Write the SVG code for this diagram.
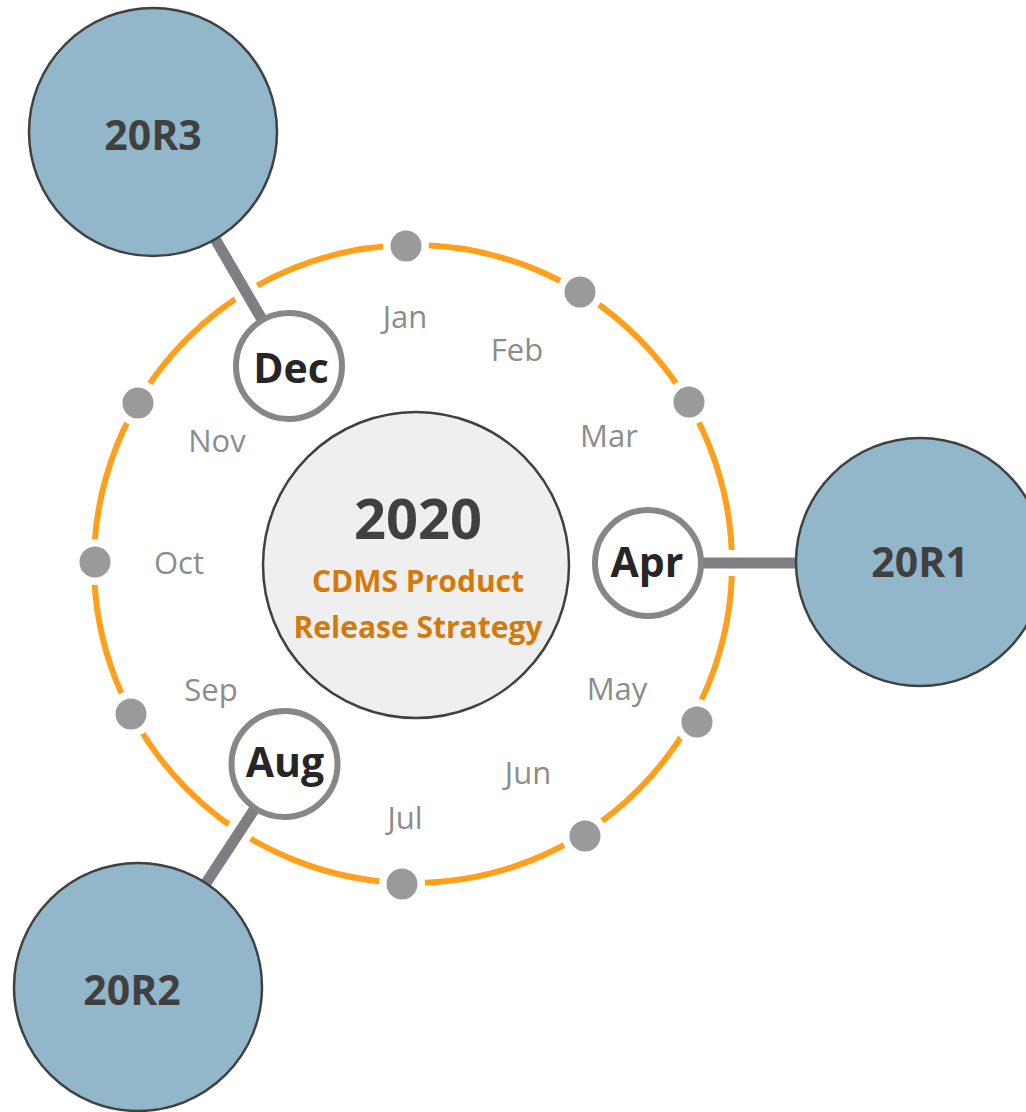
<svg xmlns="http://www.w3.org/2000/svg" width="1026" height="1112" viewBox="0 0 1026 1112">
<style>
.ring{fill:none;stroke:#FF9F1C;stroke-width:6}
.halo{fill:#fff}
.dot{fill:#9A9A9A}
.case{stroke:#fff;stroke-width:26;stroke-linecap:butt}
.link{stroke:#7F7F83;stroke-width:11;stroke-linecap:butt}
.rel{fill:#93B7CA;stroke:#404040;stroke-width:2.5}
.relt{font-family:"Open Sans",sans-serif;font-weight:700;font-size:41px;fill:#404040;text-anchor:middle}
.mon{fill:#fff;stroke:#878787;stroke-width:6}
.mont{font-family:"Open Sans",sans-serif;font-weight:700;font-size:41px;fill:#262626;text-anchor:middle}
.lbl{font-family:"Open Sans",sans-serif;font-size:31px;fill:#8C8C8C;text-anchor:middle}
</style>
<rect width="1026" height="1112" fill="#fff"/>
<g id="ring">
<circle class="ring" cx="413" cy="564" r="319"/>
</g>
<g id="connectors">
<line class="case" x1="153" y1="132" x2="289" y2="366"/>
<line class="case" x1="648" y1="563" x2="920" y2="563"/>
<line class="case" x1="284" y1="764" x2="138" y2="987"/>
<line class="link" x1="153" y1="132" x2="289" y2="366"/>
<line class="link" x1="648" y1="563" x2="920" y2="563"/>
<line class="link" x1="284" y1="764" x2="138" y2="987"/>
</g>
<g id="dots">
<circle class="halo" cx="406" cy="246" r="23"/><circle class="dot" cx="406" cy="246" r="15.5"/>
<circle class="halo" cx="580" cy="292" r="23"/><circle class="dot" cx="580" cy="292" r="15.5"/>
<circle class="halo" cx="689" cy="402" r="23"/><circle class="dot" cx="689" cy="402" r="15.5"/>
<circle class="halo" cx="697" cy="722" r="23"/><circle class="dot" cx="697" cy="722" r="15.5"/>
<circle class="halo" cx="585" cy="836" r="23"/><circle class="dot" cx="585" cy="836" r="15.5"/>
<circle class="halo" cx="402" cy="884" r="23"/><circle class="dot" cx="402" cy="884" r="15.5"/>
<circle class="halo" cx="131" cy="714" r="23"/><circle class="dot" cx="131" cy="714" r="15.5"/>
<circle class="halo" cx="95" cy="562" r="23"/><circle class="dot" cx="95" cy="562" r="15.5"/>
<circle class="halo" cx="138" cy="403" r="23"/><circle class="dot" cx="138" cy="403" r="15.5"/>
</g>
<g id="month-labels">
<text class="lbl" x="405" y="328">Jan</text>
<text class="lbl" x="517" y="361">Feb</text>
<text class="lbl" x="609" y="447">Mar</text>
<text class="lbl" x="617" y="700">May</text>
<text class="lbl" x="528" y="784">Jun</text>
<text class="lbl" x="405" y="829">Jul</text>
<text class="lbl" x="211" y="701">Sep</text>
<text class="lbl" x="179" y="574">Oct</text>
<text class="lbl" x="217" y="452">Nov</text>
</g>
<g id="center">
<circle cx="416" cy="565" r="153" fill="#EFEFEF" stroke="#404040" stroke-width="2.5"/>
<text x="418" y="539" font-family="Open Sans, sans-serif" font-weight="700" font-size="56" fill="#404040" text-anchor="middle">2020</text>
<text x="418" y="592" font-family="Open Sans, sans-serif" font-weight="700" font-size="30" fill="#D47A0C" text-anchor="middle">CDMS Product</text>
<text x="418" y="638" font-family="Open Sans, sans-serif" font-weight="700" font-size="30" fill="#D47A0C" text-anchor="middle">Release Strategy</text>
</g>
<g id="dec"><circle class="mon" cx="289" cy="366" r="53"/><text class="mont" x="291" y="383">Dec</text></g>
<g id="apr"><circle class="mon" cx="648" cy="563" r="53"/><text class="mont" x="647" y="577">Apr</text></g>
<g id="aug"><circle class="mon" cx="284.5" cy="764" r="53"/><text class="mont" x="285" y="777">Aug</text></g>
<g id="r20r3"><circle class="rel" cx="153" cy="132" r="124"/><text class="relt" x="153" y="150">20R3</text></g>
<g id="r20r1"><circle class="rel" cx="920" cy="562" r="124"/><text class="relt" x="920" y="577">20R1</text></g>
<g id="r20r2"><circle class="rel" cx="138" cy="987" r="124"/><text class="relt" x="132" y="1005">20R2</text></g>
</svg>
